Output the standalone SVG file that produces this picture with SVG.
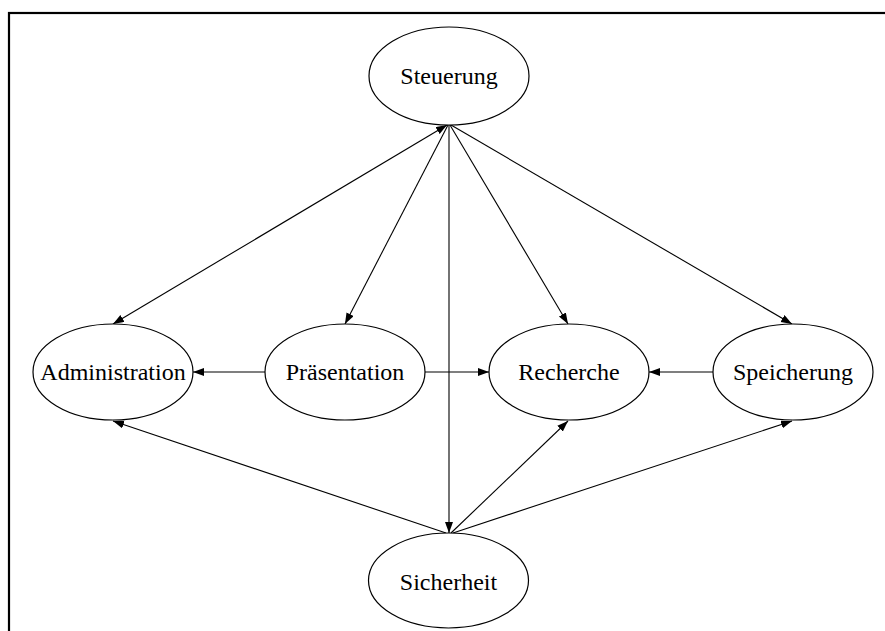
<svg xmlns="http://www.w3.org/2000/svg" width="885" height="631" viewBox="0 0 885 631">
<style>
.node ellipse{fill:#fff;stroke:#000;stroke-width:1.2}
.node text{font-size:24px;fill:#000;text-anchor:middle}
.edges line{stroke:#000;stroke-width:1.1;fill:none}
</style>
<defs>
<marker id="ah" markerUnits="userSpaceOnUse" markerWidth="12" markerHeight="9" refX="11" refY="4" orient="auto-start-reverse" viewBox="0 0 12 9">
<path d="M0,0 L11,4 L0,8 z" fill="#000"/>
</marker>
</defs>
<rect x="0" y="0" width="885" height="631" fill="#fff"/>
<rect x="9" y="13" width="900" height="700" fill="none" stroke="#000" stroke-width="2.2"/>
<g class="edges" id="edges">
<line x1="447" y1="125" x2="113" y2="324" marker-start="url(#ah)" marker-end="url(#ah)"/>
<line x1="448" y1="125" x2="345" y2="324" marker-end="url(#ah)"/>
<line x1="450" y1="125" x2="568" y2="324" marker-end="url(#ah)"/>
<line x1="451" y1="125" x2="792" y2="324" marker-end="url(#ah)"/>
<line x1="449" y1="125" x2="449" y2="533" marker-end="url(#ah)"/>
<line x1="265" y1="372" x2="193" y2="372" marker-end="url(#ah)"/>
<line x1="425" y1="372" x2="489" y2="372" marker-end="url(#ah)"/>
<line x1="713" y1="372" x2="649" y2="372" marker-end="url(#ah)"/>
<line x1="446" y1="533" x2="113" y2="421" marker-end="url(#ah)"/>
<line x1="451" y1="533" x2="568" y2="421" marker-end="url(#ah)"/>
<line x1="453" y1="533" x2="792" y2="421" marker-end="url(#ah)"/>
</g>
<g class="node" id="steuerung">
<ellipse cx="449" cy="76" rx="80" ry="49"/>
<text x="449" y="84" font-family="Liberation Serif, Times New Roman, Times, serif">Steuerung</text>
</g>
<g class="node" id="administration">
<ellipse cx="113" cy="372" rx="80" ry="48"/>
<text x="113" y="380" font-family="Liberation Serif, Times New Roman, Times, serif">Administration</text>
</g>
<g class="node" id="praesentation">
<ellipse cx="345" cy="372" rx="80" ry="48"/>
<text x="345" y="380" font-family="Liberation Serif, Times New Roman, Times, serif">Präsentation</text>
</g>
<g class="node" id="recherche">
<ellipse cx="569" cy="372" rx="80" ry="48"/>
<text x="569" y="380" font-family="Liberation Serif, Times New Roman, Times, serif">Recherche</text>
</g>
<g class="node" id="speicherung">
<ellipse cx="793" cy="372" rx="80" ry="48"/>
<text x="793" y="380" font-family="Liberation Serif, Times New Roman, Times, serif">Speicherung</text>
</g>
<g class="node" id="sicherheit">
<ellipse cx="448.5" cy="580.5" rx="80" ry="47.5"/>
<text x="448.5" y="590" font-family="Liberation Serif, Times New Roman, Times, serif">Sicherheit</text>
</g>
</svg>
